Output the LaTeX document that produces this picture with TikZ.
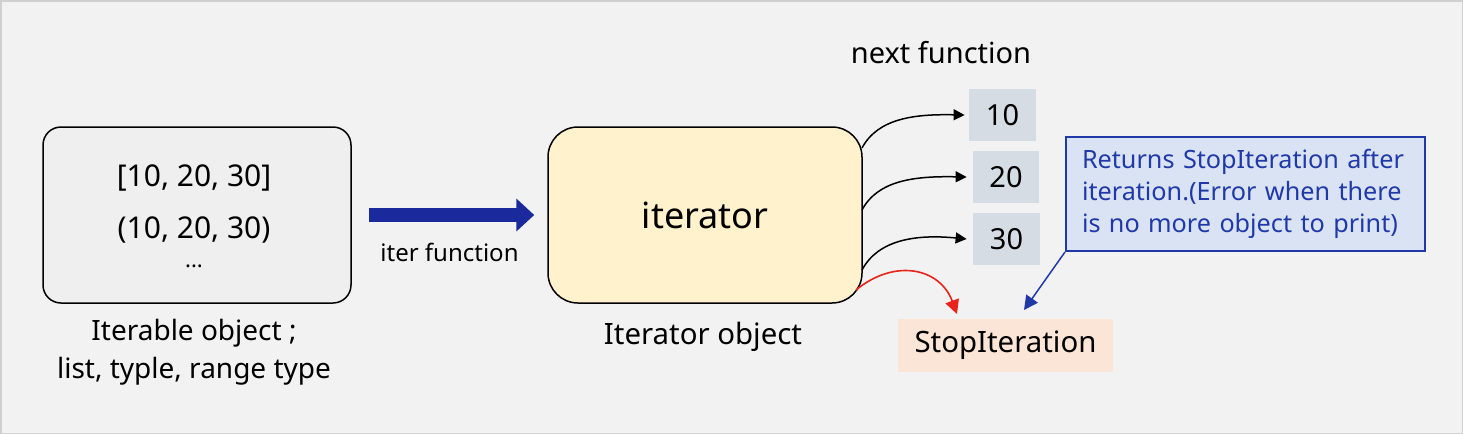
\documentclass[tikz,border=0pt]{standalone}
\usepackage{fontspec}
\setmainfont{Noto Sans}
\usetikzlibrary{arrows.meta}
\definecolor{bg}{HTML}{F2F2F2}
\definecolor{frame}{HTML}{D0D0D0}
\definecolor{ibox}{HTML}{EFEFEF}
\definecolor{itbox}{HTML}{FFF2CC}
\definecolor{numbox}{HTML}{D6DCE4}
\definecolor{callfill}{HTML}{DAE3F3}
\definecolor{callblue}{HTML}{2039A8}
\definecolor{stopfill}{HTML}{FBE5D6}
\definecolor{arrblue}{HTML}{1A2A9C}
\definecolor{redarr}{HTML}{E8231A}
\tikzset{
  bigbox/.style={draw=black, line width=0.75pt, rounded corners=9pt, minimum width=154pt, minimum height=88pt, inner sep=0pt},
  numnode/.style={fill=numbox, minimum height=26pt, inner sep=0pt, font=\fontsize{14.5}{17}\selectfont},
  lbl/.style={font=\fontsize{14}{17}\selectfont, align=center, inner sep=0pt},
  nextarr/.style={line width=0.75pt, -{Triangle[length=5.5pt,width=5.5pt]}},
}
\begin{document}
\begin{tikzpicture}[x=0.5pt,y=-0.5pt]
\useasboundingbox (0,0) rectangle (1463,434);
\fill[bg] (0,0) rectangle (1463,434);
\draw[frame, line width=0.75pt] (0.75,0.75) rectangle (1462.25,433.25);

% iterable box
\node[bigbox, fill=ibox] (iterable) at (197,215) {};
\node[lbl, font=\fontsize{15}{18}\selectfont] (l1) at (194,178) {[10, 20, 30]};
\node[lbl, font=\fontsize{15}{18}\selectfont] (l2) at (194,230) {(10, 20, 30)};
\node[lbl, font=\fontsize{11}{13}\selectfont] (l3) at (194,266) {...};
\node[lbl] (itcap) at (194,352) {Iterable object ;\\[2pt] list, typle, range type};

% iterator box
\node[bigbox, fill=itbox, rounded corners=15pt, minimum width=157pt, font=\fontsize{18}{21}\selectfont] (iterator) at (705,215) {iterator};
\node[lbl, font=\fontsize{14.7}{17}\selectfont] (itorcap) at (703,337) {Iterator object};

% iter function arrow
\draw[arrblue, line width=7pt, -{Triangle[length=9pt,width=16pt]}, shorten <=8.5pt, shorten >=6.5pt] (iterable.east) -- (iterator.west) node[midway, below=7pt, black, font=\fontsize{12}{14}\selectfont] (iterlbl) {iter function};

% next function
\node[lbl, font=\fontsize{14.5}{17}\selectfont] (nextlbl) at (941,53) {next function};
\node[numnode, minimum width=33.5pt] (n10) at (1002.5,115) {10};
\node[numnode, minimum width=33pt] (n20) at (1006,177) {20};
\node[numnode, minimum width=33.5pt] (n30) at (1006.5,239) {30};

\coordinate (s1) at (862,148);
\coordinate (s2) at (862,210);
\coordinate (s3) at (862,270);
\coordinate (t1) at ([xshift=-2pt]n10.west);
\coordinate (t2) at ([xshift=-3pt]n20.west);
\coordinate (t3) at ([xshift=-3pt]n30.west);
\draw[nextarr] (s1) .. controls (878,118) and (915,114) .. (t1);
\draw[nextarr] (s2) .. controls (878,180) and (915,176) .. (t2);
\draw[nextarr] (s3) .. controls (878,240) and (915,234) .. (t3);

% StopIteration
\node[fill=stopfill, minimum width=107.5pt, minimum height=26.5pt, inner sep=0pt, font=\fontsize{14.7}{17}\selectfont] (stop) at (1005.5,345.5) {StopIteration};
\coordinate (s4) at (856,290);
\coordinate (t4) at (957,314);
\draw[redarr, line width=0.8pt, -{Triangle[length=7pt,width=7pt]}] (s4) .. controls (895,258) and (940,268) .. (t4);

% callout
\node[draw=callblue, line width=1pt, fill=callfill, minimum width=179.5pt, minimum height=57pt, text width=163.5pt, align=left, inner xsep=8pt, inner ysep=0pt, text=callblue, font=\fontsize{12.6}{16}\selectfont] (call) at (1245.5,194) {Returns StopIteration after\\iteration.(Error when there\\is no more object to print)};
\coordinate (t5) at (1024,310);
\draw[callblue, line width=0.75pt, -{Triangle[length=7pt,width=7pt]}] (call.south west) -- (t5);
\end{tikzpicture}
\end{document}
